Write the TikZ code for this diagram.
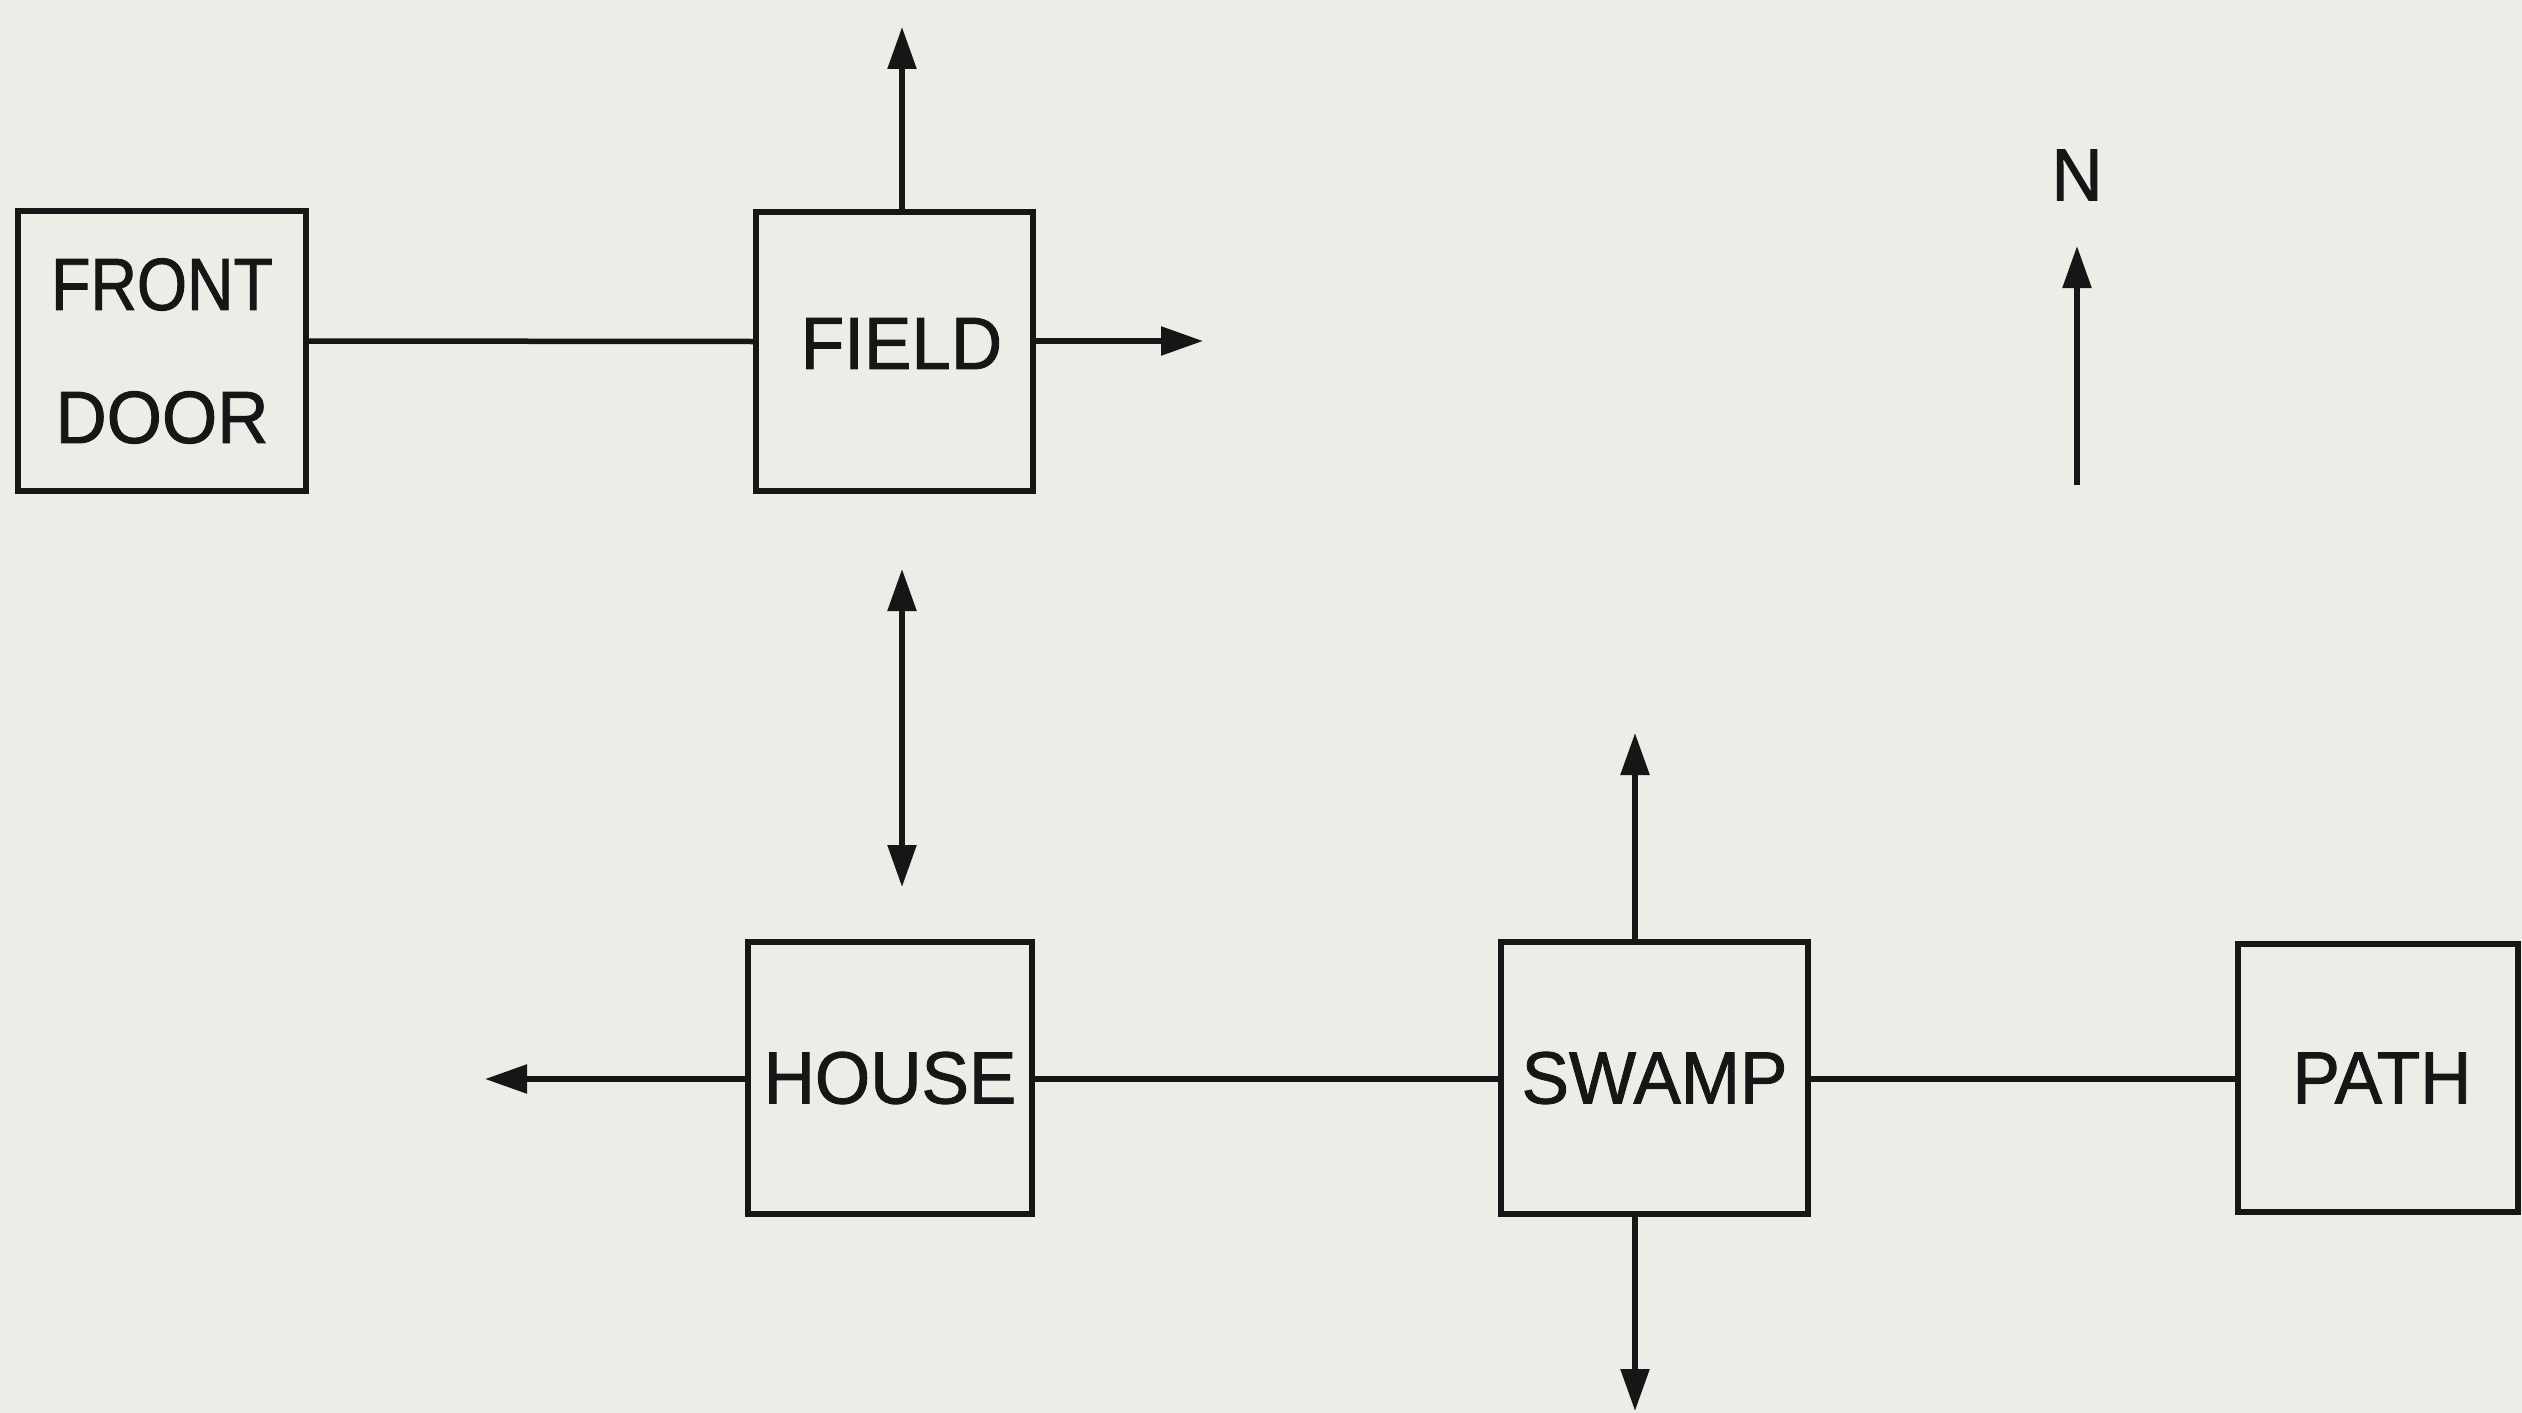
\documentclass[tikz,border=0pt]{standalone}
\usepackage{fontspec}
\setmainfont{Liberation Sans}[FakeStretch=0.96,FakeBold=1.2]
\usetikzlibrary{arrows.meta}
\definecolor{paper}{RGB}{238,236,230}
\definecolor{ink}{RGB}{22,22,22}
\begin{document}
\begin{tikzpicture}[x=1pt,y=-1pt,
  room/.style={draw=ink, line width=5.5pt, inner sep=0pt, font=\fontsize{74}{133}\selectfont, text=ink, align=center},
  link/.style={draw=ink, line width=5.5pt},
  arr/.style={link, -{Triangle[length=42pt,width=28pt]}},
  darr/.style={link, {Triangle[length=42pt,width=28pt]}-{Triangle[length=42pt,width=28pt]}},
  lbl/.style={font=\fontsize{74}{86}\selectfont, text=ink, inner sep=0pt}]
\fill[paper] (0,0) rectangle (2522,1413);
\useasboundingbox (0,0) rectangle (2522,1413);
% rooms
\node[room, minimum width=288pt, minimum height=280pt] (fd) at (162,351) {{\addfontfeatures{FakeStretch=0.87}FRONT}\\DOOR};
\node[room, minimum width=277pt, minimum height=279pt] (field) at (894.5,351.5) {\hspace*{14pt}FIELD\rule[-16pt]{0pt}{16pt}};
\node[room, minimum width=284pt, minimum height=272pt] (house) at (890,1078) {HOUSE};
\node[room, minimum width=307pt, minimum height=272pt] (swamp) at (1654.5,1078) {SWAMP};
\node[room, minimum width=280pt, minimum height=268pt] (path) at (2378,1078) {\hspace*{8pt}PATH};
\node[lbl] (north) at (2077,175) {N};
% free ends
\coordinate (fieldN) at (902,27);
\coordinate (fieldE) at (1203,341);
\coordinate (dTop) at (902,569);
\coordinate (dBot) at (902,887);
\coordinate (houseW) at (485,1079);
\coordinate (swampN) at (1635,733);
\coordinate (swampS) at (1635,1411);
\coordinate (nTail) at (2077,485);
\coordinate (nTip) at (2077,246);
% connectors
\draw[link] ([yshift=10pt]fd.east) -- ([yshift=10pt]field.west);
\draw[arr] (field.north -| fieldN) -- (fieldN);
\draw[arr] (field.east |- fieldE) -- (fieldE);
\draw[darr] (dTop) -- (dBot);
\draw[arr] (house.west |- houseW) -- (houseW);
\draw[link] (house.east |- houseW) -- (swamp.west |- houseW);
\draw[link] (swamp.east |- houseW) -- (path.west |- houseW);
\draw[arr] (swamp.north -| swampN) -- (swampN);
\draw[arr] (swamp.south -| swampS) -- (swampS);
\draw[arr] (nTail) -- (nTip);
\end{tikzpicture}
\end{document}
